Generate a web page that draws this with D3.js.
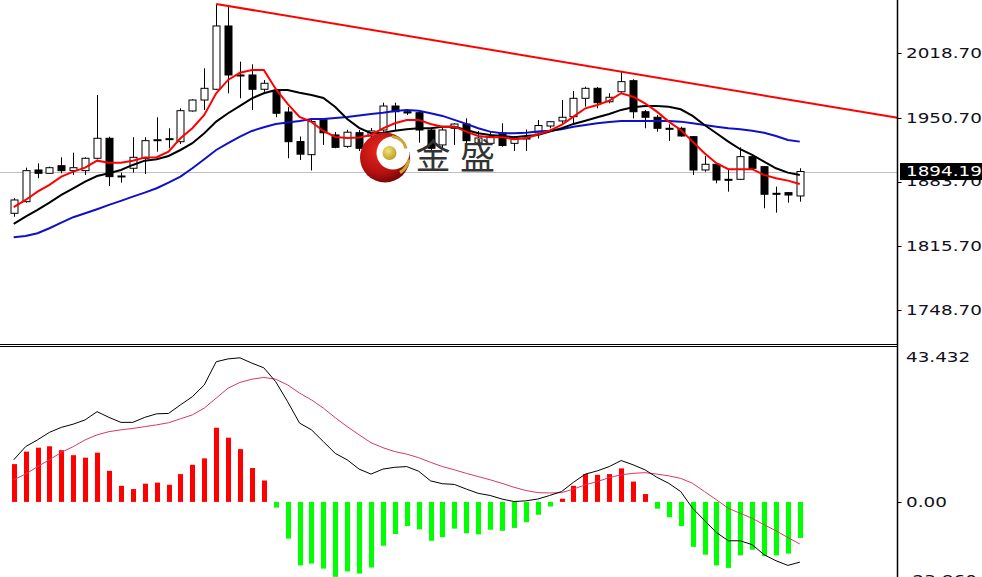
<!DOCTYPE html>
<html><head><meta charset="utf-8">
<script src="https://cdn.jsdelivr.net/npm/d3@7"></script>
<style>body{margin:0;background:#fff;overflow:hidden}svg{display:block}</style>
</head><body>
<svg id="c" width="982" height="577"></svg>
<script>
// ---------- data ----------
const opens  = [1850.3,1862.5,1895.8,1892.3,1900.3,1895.1,1895.1,1908.1,1929.1,1888.8,1897.6,1908.1,1927.3,1928.4,1925.5,1957.8,1969.3,1980.6,2047.1,1995.6,1995.6,1980.6,1979.1,1956.7,1925.7,1911.9,1948.6,1932.6,1920.6,1935.0,1931.5,1937.8,1963.0,1957.0,1956.0,1937.8,1922.1,1939.6,1944.1,1924.2,1923.8,1934.7,1923.8,1929.1,1934.7,1942.0,1947.3,1951.8,1971.1,1981.6,1967.5,1978.0,1989.6,1957.0,1951.2,1939.6,1939.6,1930.8,1895.8,1901.8,1886.0,1886.0,1909.8,1899.3,1871.3,1872.0,1868.5];
const highs  = [1866.1,1898.2,1902.8,1899.3,1909.1,1914.0,1909.1,1974.6,1930.8,1893.0,1930.2,1930.2,1951.2,1939.6,1960.6,1970.1,2002.6,2070.2,2069.0,2009.6,2006.8,1990.3,1980.6,1962.0,1931.0,1949.4,1950.1,1935.7,1938.1,1937.8,1939.9,1966.5,1966.5,1959.6,1957.0,1939.6,1942.0,1944.9,1950.1,1936.8,1936.0,1944.9,1931.5,1938.3,1948.3,1947.3,1969.3,1978.8,1983.3,1983.0,1976.4,1999.1,1991.1,1958.8,1953.6,1943.8,1941.3,1931.5,1910.5,1902.8,1895.8,1919.6,1912.3,1900.0,1878.3,1872.4,1897.6];
const lows   = [1846.7,1861.5,1887.1,1891.6,1892.3,1890.6,1890.6,1907.0,1879.0,1882.5,1893.0,1891.6,1915.0,1918.6,1923.1,1957.1,1958.8,1979.8,1976.4,1971.1,1958.8,1978.0,1951.2,1908.1,1906.3,1895.3,1922.1,1918.6,1919.1,1915.8,1929.4,1936.0,1937.8,1953.6,1924.5,1914.7,1916.8,1922.1,1919.6,1921.0,1922.1,1920.3,1915.8,1915.8,1928.9,1939.6,1943.1,1943.1,1962.3,1960.6,1965.9,1977.0,1950.1,1939.6,1936.0,1926.3,1930.8,1890.6,1894.0,1881.8,1873.0,1885.3,1895.8,1855.6,1851.0,1861.5,1862.5];
const closes = [1864.3,1895.1,1892.3,1898.2,1895.1,1898.2,1908.1,1929.1,1888.8,1889.5,1909.1,1926.6,1927.6,1928.7,1958.1,1969.3,1981.6,2047.1,1995.6,1995.2,1980.6,1986.9,1955.4,1925.5,1912.4,1946.7,1934.9,1919.6,1935.5,1918.6,1936.8,1963.0,1957.0,1955.7,1937.8,1918.6,1937.8,1944.1,1926.6,1929.4,1931.0,1921.5,1928.4,1929.4,1942.5,1946.5,1951.2,1971.1,1981.6,1966.5,1972.2,1988.6,1957.0,1951.2,1939.6,1939.3,1931.5,1895.8,1901.8,1885.3,1885.6,1909.8,1897.6,1870.3,1870.8,1869.5,1894.19];

const maFast = [1856.7,1864.3,1873.0,1880.1,1888.8,1894.1,1898.3,1905.6,1903.5,1903.5,1905.6,1908.8,1909.2,1915.1,1929.1,1939.6,1953.6,1976.4,1990.4,1998.0,2000.9,2000.9,1980.9,1965.2,1951.5,1946.3,1936.8,1930.5,1929.4,1930.0,1932.6,1939.6,1944.9,1948.4,1948.4,1944.2,1941.3,1941.3,1936.1,1931.5,1930.2,1930.2,1928.1,1929.1,1933.1,1937.1,1943.1,1951.8,1960.6,1964.1,1968.6,1976.4,1972.8,1965.9,1957.1,1946.6,1937.9,1925.6,1913.4,1902.9,1896.6,1896.6,1896.6,1890.6,1887.1,1884.6,1881.1];
const maMid  = [1839.1,1846.8,1853.8,1861.5,1869.6,1876.6,1883.5,1889.5,1892.4,1895.8,1901.1,1905.6,1907.1,1910.5,1916.8,1923.9,1934.4,1946.6,1955.4,1963.1,1971.1,1976.4,1979.9,1979.9,1977.0,1974.6,1971.5,1962.0,1949.4,1940.0,1934.4,1935.0,1937.1,1938.6,1939.6,1939.6,1941.3,1941.3,1937.9,1934.4,1932.6,1931.5,1930.2,1931.5,1932.6,1936.1,1939.6,1944.2,1947.6,1951.2,1954.7,1958.9,1961.7,1963.1,1963.1,1962.3,1959.6,1952.6,1943.1,1934.4,1925.6,1917.6,1911.6,1904.6,1897.6,1893.0,1890.6];
const maSlow = [1825.1,1826.5,1829.3,1834.6,1840.5,1846.2,1850.4,1854.6,1859.1,1863.3,1867.8,1872.0,1876.6,1882.5,1888.8,1897.6,1907.1,1916.8,1923.9,1930.8,1936.8,1940.7,1944.2,1945.7,1947.3,1949.4,1949.4,1950.5,1951.5,1953.1,1954.7,1956.0,1957.8,1958.9,1958.1,1955.4,1952.6,1948.4,1944.2,1939.6,1936.1,1934.4,1934.4,1935.0,1936.3,1937.1,1938.6,1941.3,1943.1,1944.9,1946.3,1947.3,1947.3,1947.3,1947.3,1947.3,1946.6,1944.9,1943.1,1941.3,1939.6,1938.6,1937.1,1935.0,1931.5,1927.3,1925.6];

const macdHist   = [10.6,14.1,15.2,15.6,14.5,13.1,12.4,13.8,8.7,4.5,3.6,5.1,5.4,4.8,7.8,10.4,12.2,20.8,18.0,14.8,9.5,6.0,-1.6,-10.3,-17.8,-17.3,-18.7,-21.0,-19.5,-20.1,-18.4,-12.3,-9.0,-6.8,-7.7,-10.9,-9.9,-7.5,-8.8,-9.1,-7.8,-8.1,-7.3,-5.7,-3.6,-1.3,0.9,4.5,7.8,7.6,7.8,9.4,5.7,2.2,-1.9,-4.3,-6.8,-12.6,-14.8,-17.8,-18.5,-15.0,-13.4,-15.2,-15.0,-14.5,-10.1];
const macdLine   = [11.8,15.5,17.4,19.5,20.9,21.8,23.0,25.3,23.7,22.3,22.3,23.7,24.7,24.8,27.2,29.5,32.8,39.3,40.1,40.4,38.9,37.6,33.7,28.1,22.1,20.2,16.9,13.6,11.8,9.2,7.8,9.2,9.7,9.9,8.6,5.9,5.1,4.9,3.6,2.4,1.8,0.8,0.1,0.3,0.8,1.8,2.9,5.5,7.8,8.7,9.9,11.6,10.4,9.0,6.9,5.2,2.9,-1.8,-5.2,-8.6,-10.9,-10.9,-12.0,-14.8,-16.5,-17.8,-16.9];
const macdSignal = [6.2,7.8,9.9,11.8,13.9,15.5,17.4,18.8,19.7,20.2,20.6,21.1,21.6,22.2,23.3,24.4,26.3,29.1,31.9,33.5,34.4,34.9,34.4,32.8,30.5,28.6,26.3,23.6,21.1,18.8,16.6,15.2,14.1,13.4,12.4,11.1,9.9,9.0,8.0,7.1,6.2,5.2,4.1,3.2,2.6,2.5,2.6,3.6,4.8,5.7,6.8,7.6,8.0,8.2,7.8,7.3,6.6,5.2,2.9,0.6,-1.8,-3.2,-4.6,-6.4,-8.1,-10.0,-11.8];

const priceTicks = [2018.70, 1950.70, 1883.70, 1815.70, 1748.70];
const macdTickValues = [43.432, 0, -23.860];
const macdTickLabels = ["43.432", "0.00", "-23.860"];
const lastPrice = 1894.19;
const trendFrom = 17, trendTo = 51;   // trend line joins these two highs
const logoText = ["金", "盛"];

// ---------- layout ----------
const svg = d3.select("#c");
const axisX = 897.5;
const priceTop = 0, priceBottom = 344, macdTop = 347, macdBottom = 587;
const n = closes.length;

const x = d3.scaleLinear().domain([0, n - 1]).range([13.7, 799.8]);
const y = d3.scaleLinear().domain([1748.7, 2018.7]).range([310, 53]);
const ym = d3.scaleLinear().domain([-23.86, 43.432]).range([macdBottom, macdTop]);
const cx = i => Math.round(x(i)) + 0.5;

const defs = svg.append("defs");
defs.append("clipPath").attr("id", "cp").append("rect")
  .attr("x", 0).attr("y", priceTop).attr("width", axisX).attr("height", priceBottom - priceTop);
defs.append("clipPath").attr("id", "cm").append("rect")
  .attr("x", 0).attr("y", macdTop + 1).attr("width", axisX).attr("height", macdBottom - macdTop);
const rg = defs.append("radialGradient").attr("id", "lg").attr("cx", "40%").attr("cy", "35%").attr("r", "70%");
rg.append("stop").attr("offset", "0%").attr("stop-color", "#e8281f");
rg.append("stop").attr("offset", "65%").attr("stop-color", "#b81010");
rg.append("stop").attr("offset", "100%").attr("stop-color", "#6e0505");
const gg = defs.append("radialGradient").attr("id", "gb").attr("cx", "40%").attr("cy", "35%").attr("r", "70%");
gg.append("stop").attr("offset", "0%").attr("stop-color", "#f3e27a");
gg.append("stop").attr("offset", "100%").attr("stop-color", "#b99a1e");

// ---------- price pane ----------
const P = svg.append("g").attr("clip-path", "url(#cp)");

P.append("line").attr("x1", 0).attr("x2", axisX)
  .attr("y1", Math.round(y(lastPrice)) + 0.5).attr("y2", Math.round(y(lastPrice)) + 0.5)
  .attr("stroke", "#c0c0c0").attr("stroke-width", 1);

const idx = d3.range(n);
const cg = P.append("g");
cg.selectAll("line.w").data(idx).join("line")
  .attr("x1", cx).attr("x2", cx)
  .attr("y1", i => y(highs[i])).attr("y2", i => y(lows[i]))
  .attr("stroke", "#000").attr("stroke-width", 1);
cg.selectAll("rect.b").data(idx).join("rect")
  .attr("x", i => cx(i) - 3.5)
  .attr("width", 7)
  .attr("y", i => Math.min(y(opens[i]), y(closes[i])))
  .attr("height", i => Math.max(1, Math.abs(y(opens[i]) - y(closes[i]))))
  .attr("fill", i => closes[i] >= opens[i] ? "#fff" : "#000")
  .attr("stroke", "#000").attr("stroke-width", 1);

const lineGen = arr => d3.line().x((d, i) => x(i)).y(d => y(d))(arr);
P.append("path").attr("d", lineGen(maSlow)).attr("fill", "none").attr("stroke", "#1010c8").attr("stroke-width", 2);
P.append("path").attr("d", lineGen(maMid)).attr("fill", "none").attr("stroke", "#000").attr("stroke-width", 2);
P.append("path").attr("d", lineGen(maFast)).attr("fill", "none").attr("stroke", "#ff0000").attr("stroke-width", 2);

const tx1 = x(trendFrom), ty1 = y(highs[trendFrom]);
const slope = (y(highs[trendTo]) - ty1) / (x(trendTo) - tx1);
P.append("line").attr("x1", tx1).attr("y1", ty1).attr("x2", axisX).attr("y2", ty1 + slope * (axisX - tx1))
  .attr("stroke", "#ff0000").attr("stroke-width", 2);

// watermark logo
const L = svg.append("g").attr("transform", "translate(385,157.5)");
L.append("circle").attr("r", 25).attr("fill", "url(#lg)");
L.append("circle").attr("cx", 8).attr("cy", -4.5).attr("r", 16.5).attr("fill", "#fff");
L.append("path").attr("d", "M7,-21 Q19,-19 21,-9").attr("fill", "none").attr("stroke", "#c9a832").attr("stroke-width", 3.2);
L.append("path").attr("d", "M24,2 Q22,11 15,15").attr("fill", "none").attr("stroke", "#c9a832").attr("stroke-width", 3.2);
L.append("circle").attr("cx", 4.5).attr("cy", -4.5).attr("r", 7).attr("fill", "url(#gb)");
svg.selectAll("text.logo").data(logoText).join("text")
  .attr("x", (d, i) => 433 + i * 44.5).attr("y", 169)
  .attr("text-anchor", "middle")
  .attr("font-family", "'Noto Sans CJK SC'").attr("font-size", 35).attr("font-weight", 400)
  .attr("fill", "#333").text(d => d);

// ---------- MACD pane ----------
const M = svg.append("g").attr("clip-path", "url(#cm)");
M.selectAll("rect.h").data(idx).join("rect")
  .attr("x", i => Math.round(x(i)) - 2)
  .attr("width", 5)
  .attr("y", i => Math.min(ym(0), ym(macdHist[i])))
  .attr("height", i => Math.abs(ym(macdHist[i]) - ym(0)))
  .attr("fill", i => macdHist[i] >= 0 ? "#ff0000" : "#00ff00");
const mLine = arr => d3.line().x((d, i) => x(i)).y(d => ym(d))(arr);
M.append("path").attr("d", mLine(macdSignal)).attr("fill", "none").attr("stroke", "#d63a62").attr("stroke-width", 1);
M.append("path").attr("d", mLine(macdLine)).attr("fill", "none").attr("stroke", "#000").attr("stroke-width", 1);

// ---------- frame ----------
svg.append("line").attr("x1", 0).attr("x2", axisX).attr("y1", priceBottom + 0.5).attr("y2", priceBottom + 0.5).attr("stroke", "#000");
svg.append("line").attr("x1", 0).attr("x2", axisX).attr("y1", macdTop - 0.5).attr("y2", macdTop - 0.5).attr("stroke", "#000");
svg.append("line").attr("x1", axisX).attr("x2", axisX).attr("y1", 0).attr("y2", 577).attr("stroke", "#000").attr("stroke-width", 1.5);

// ---------- axis labels ----------
const font = "'DejaVu Sans'";
function label(txt, ty, fill) {
  svg.append("text").attr("transform", `translate(906,${ty}) scale(1.36,1)`)
    .attr("dy", "0.36em").attr("font-family", font).attr("font-size", 13.5)
    .attr("fill", fill || "#101020").text(txt);
}
priceTicks.forEach(v => {
  const ty = Math.round(y(v)) + 0.5;
  svg.append("line").attr("x1", axisX).attr("x2", axisX + 4).attr("y1", ty).attr("y2", ty).attr("stroke", "#000");
  label(v.toFixed(2), y(v));
});
const ly = y(lastPrice);
svg.append("rect").attr("x", 900).attr("y", ly - 8.5).attr("width", 82).attr("height", 17).attr("fill", "#000");
label(lastPrice.toFixed(2), ly, "#fff");

macdTickValues.forEach((v, k) => {
  let ty = ym(v);
  if (k === 0) ty += 10;
  if (k === macdTickValues.length - 1) ty -= 7;
  if (k === 1) svg.append("line").attr("x1", axisX).attr("x2", axisX + 4)
    .attr("y1", Math.round(ym(v)) + 0.5).attr("y2", Math.round(ym(v)) + 0.5).attr("stroke", "#000");
  label(macdTickLabels[k], ty);
});
</script>
</body></html>
